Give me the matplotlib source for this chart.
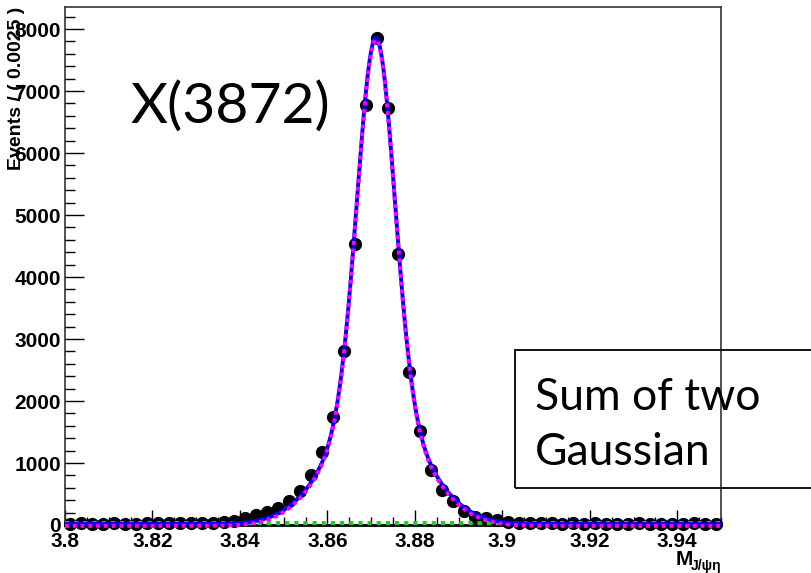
import numpy as np
import matplotlib
matplotlib.use('Agg')
import matplotlib.pyplot as plt
from matplotlib.ticker import MultipleLocator
from matplotlib.patches import Rectangle

plt.rcParams['font.family'] = ['Liberation Sans', 'DejaVu Sans']

# binning of the histogram (60 bins of 0.0025)
x_lo, x_hi, n_bins = 3.80, 3.95, 60
# events per bin
counts = [20, 25, 15, 20, 25, 15, 20, 25, 30, 25,
          30, 30, 35, 40, 50, 65, 110, 160, 205, 275,
          395, 545, 800, 1183, 1737, 2810, 4527, 6774, 7855, 6726,
          4371, 2473, 1516, 887, 570, 380, 225, 134, 110, 80,
          55, 40, 35, 30, 25, 20, 25, 20, 25, 20,
          15, 20, 25, 20, 20, 15, 20, 25, 20, 15]

# fit: sum of two gaussians + flat background
fit_mean = 3.8711
fit_amp = [5940, 1900]
fit_sigma = [0.0042, 0.0102]
bkg_level = 30
total_offset = 15

xticks = [3.80, 3.82, 3.84, 3.86, 3.88, 3.90, 3.92, 3.94]
xtick_labels = ['3.8', '3.82', '3.84', '3.86', '3.88', '3.9', '3.92', '3.94']
yticks = [0, 1000, 2000, 3000, 4000, 5000, 6000, 7000, 8000]

W, H = 811, 573
def px(x, y):  # pixel (from top-left) -> figure fraction
    return x / W, 1 - y / H

fig = plt.figure(figsize=(W / 100, H / 100), dpi=100)
ax = fig.add_axes([65 / W, 48 / H, 656 / W, 518 / H])

edges = np.linspace(x_lo, x_hi, n_bins + 1)
centers = 0.5 * (edges[:-1] + edges[1:])
y = np.array(counts, dtype=float)

xx = np.linspace(x_lo, x_hi, 1500)
gsum = sum(a * np.exp(-0.5 * ((xx - fit_mean) / s) ** 2) for a, s in zip(fit_amp, fit_sigma))
total = gsum + total_offset
signal = total - bkg_level
bkg = np.full_like(xx, bkg_level)

ax.errorbar(centers, y, yerr=np.sqrt(y), fmt='o', color='black', ms=8.5,
            elinewidth=1, capsize=0, zorder=3, clip_on=False)
ax.plot(xx, bkg, color='#22cc22', lw=3.0, dashes=(1.0, 1.2), zorder=4, clip_on=False)
ax.plot(xx, total, color='#0000ff', lw=2.8, zorder=5)
ax.plot(xx, signal, color='#ff00ff', lw=2.8, dashes=(1.0, 1.0), zorder=6, clip_on=False)

ax.set_xlim(x_lo, x_hi)
ax.set_ylim(0, 8355)

ax.set_xticks(xticks)
ax.set_xticklabels(xtick_labels)
ax.set_yticks(yticks)
ax.xaxis.set_minor_locator(MultipleLocator(0.005))
ax.yaxis.set_minor_locator(MultipleLocator(200))
ax.tick_params(axis='x', which='major', direction='in', length=11, width=1, pad=5,
               labelsize=15, top=False)
ax.tick_params(axis='x', which='minor', direction='in', length=5.5, width=1, top=False)
ax.tick_params(axis='y', which='major', direction='in', length=14, width=1, pad=3,
               labelsize=15, right=False)
ax.tick_params(axis='y', which='minor', direction='in', length=7, width=1, right=False)
for lab in ax.get_xticklabels() + ax.get_yticklabels():
    lab.set_fontweight('bold')

for side in ['top', 'right', 'left']:
    ax.spines[side].set_color('#333333')
    ax.spines[side].set_linewidth(1.2)
ax.spines['bottom'].set_color('black')
ax.spines['bottom'].set_linewidth(2)

# axis titles, ROOT style (the y title sits over the tick labels, as in the original)
fig.text(*px(17, 7), 'Events / ( 0.0025 )', rotation=90, ha='center', va='top',
         fontsize=14, fontweight='bold')
fig.text(*px(676, 565), 'M', ha='left', va='baseline', fontsize=15, fontweight='bold')
fig.text(*px(691, 570), 'J/ψη', ha='left', va='baseline', fontsize=10, fontweight='bold')

# annotations
fig.text(*px(130, 123), 'X(3872)', ha='left', va='baseline', fontsize=41,
         family=['Lato', 'DejaVu Sans'])
fig.patches.append(Rectangle(px(515, 488), 320 / W, 138 / H, transform=fig.transFigure,
                             fill=False, edgecolor='black', lw=1.3))
fig.text(*px(535, 410), 'Sum of two', ha='left', va='baseline', fontsize=32,
         family=['Lato', 'DejaVu Sans'])
fig.text(*px(535, 465), 'Gaussian', ha='left', va='baseline', fontsize=32,
         family=['Lato', 'DejaVu Sans'])

fig.savefig('out.png', dpi=100)
